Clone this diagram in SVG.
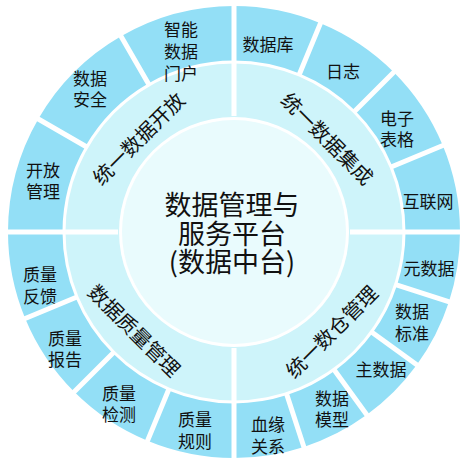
<svg xmlns="http://www.w3.org/2000/svg" width="470" height="470" viewBox="0 0 470 470">
<style>
.o{fill:#93dff6}
.m{fill:#cef4fa}
.c{fill:#e9fbfd}
text{font-family:"Microsoft YaHei","Noto Sans CJK SC","Noto Sans",sans-serif;fill:#111;text-anchor:middle;dominant-baseline:central}
.t{font-size:17px}
.mt{font-size:20px}
.ct{font-size:27px}
.sep{stroke:#fff;stroke-width:5;fill:none}
</style>
<rect width="470" height="470" fill="#fff"/>
<g id="core">
<circle class="c" cx="234" cy="232" r="112"/>
<text class="ct" x="232" y="203">数据管理与</text>
<text class="ct" x="232" y="232">服务平台</text>
<text class="ct" x="232" y="260">(数据中台)</text>
</g>
<g id="mid-open">
<path class="m" d="M65.5,232 A168.5,168.5 0 0 1 234,63.5 L234,117 A115,115 0 0 0 119,232 Z"/>
<text class="mt" transform="translate(138,138) rotate(-45)">统一数据开放</text>
</g>
<g id="mid-integrate">
<path class="m" d="M234,63.5 A168.5,168.5 0 0 1 402.5,232 L349,232 A115,115 0 0 0 234,117 Z"/>
<text class="mt" transform="translate(328,138) rotate(45)">统一数据集成</text>
</g>
<g id="mid-warehouse">
<path class="m" d="M402.5,232 A168.5,168.5 0 0 1 234,400.5 L234,347 A115,115 0 0 0 349,232 Z"/>
<text class="mt" transform="translate(331,331) rotate(-45)">统一数仓管理</text>
</g>
<g id="mid-quality">
<path class="m" d="M234,400.5 A168.5,168.5 0 0 1 65.5,232 L119,232 A115,115 0 0 0 234,347 Z"/>
<text class="mt" transform="translate(135,330) rotate(45)">数据质量管理</text>
</g>
<g id="seg-open-mgmt">
<path class="o" d="M8,232 A226,226 0 0 1 38.28,119 L85.48,146.25 A171.5,171.5 0 0 0 62.5,232 Z"/>
<text class="t" x="43" y="169">开放</text><text class="t" x="43" y="190">管理</text>
</g>
<g id="seg-security">
<path class="o" d="M38.28,119 A226,226 0 0 1 121,36.28 L148.25,83.48 A171.5,171.5 0 0 0 85.48,146.25 Z"/>
<text class="t" x="90" y="77">数据</text><text class="t" x="90" y="98">安全</text>
</g>
<g id="seg-portal">
<path class="o" d="M121,36.28 A226,226 0 0 1 234,6 L234,60.5 A171.5,171.5 0 0 0 148.25,83.48 Z"/>
<text class="t" x="181" y="28">智能</text><text class="t" x="181" y="50">数据</text><text class="t" x="181" y="72">门户</text>
</g>
<g id="seg-db">
<path class="o" d="M234,6 A226,226 0 0 1 320.49,23.2 L299.63,73.55 A171.5,171.5 0 0 0 234,60.5 Z"/>
<text class="t" x="268" y="43">数据库</text>
</g>
<g id="seg-log">
<path class="o" d="M320.49,23.2 A226,226 0 0 1 393.81,72.19 L355.27,110.73 A171.5,171.5 0 0 0 299.63,73.55 Z"/>
<text class="t" x="343" y="70">日志</text>
</g>
<g id="seg-sheet">
<path class="o" d="M393.81,72.19 A226,226 0 0 1 442.8,145.51 L392.45,166.37 A171.5,171.5 0 0 0 355.27,110.73 Z"/>
<text class="t" x="397" y="117">电子</text><text class="t" x="397" y="138">表格</text>
</g>
<g id="seg-web">
<path class="o" d="M442.8,145.51 A226,226 0 0 1 460,232 L405.5,232 A171.5,171.5 0 0 0 392.45,166.37 Z"/>
<text class="t" x="428" y="200">互联网</text>
</g>
<g id="seg-meta">
<path class="o" d="M460,232 A226,226 0 0 1 448.94,301.84 L397.11,285 A171.5,171.5 0 0 0 405.5,232 Z"/>
<text class="t" x="429" y="267">元数据</text>
</g>
<g id="seg-standard">
<path class="o" d="M448.94,301.84 A226,226 0 0 1 416.84,364.84 L372.75,332.81 A171.5,171.5 0 0 0 397.11,285 Z"/>
<text class="t" x="412" y="310">数据</text><text class="t" x="412" y="332">标准</text>
</g>
<g id="seg-master">
<path class="o" d="M416.84,364.84 A226,226 0 0 1 366.84,414.84 L334.81,370.75 A171.5,171.5 0 0 0 372.75,332.81 Z"/>
<text class="t" x="381" y="368">主数据</text>
</g>
<g id="seg-model">
<path class="o" d="M366.84,414.84 A226,226 0 0 1 303.84,446.94 L287,395.11 A171.5,171.5 0 0 0 334.81,370.75 Z"/>
<text class="t" x="332" y="397">数据</text><text class="t" x="332" y="418">模型</text>
</g>
<g id="seg-lineage">
<path class="o" d="M303.84,446.94 A226,226 0 0 1 234,458 L234,403.5 A171.5,171.5 0 0 0 287,395.11 Z"/>
<text class="t" x="268" y="423">血缘</text><text class="t" x="268" y="445">关系</text>
</g>
<g id="seg-rule">
<path class="o" d="M234,458 A226,226 0 0 1 147.51,440.8 L168.37,390.45 A171.5,171.5 0 0 0 234,403.5 Z"/>
<text class="t" x="195" y="418">质量</text><text class="t" x="195" y="440">规则</text>
</g>
<g id="seg-check">
<path class="o" d="M147.51,440.8 A226,226 0 0 1 74.19,391.81 L112.73,353.27 A171.5,171.5 0 0 0 168.37,390.45 Z"/>
<text class="t" x="119" y="392">质量</text><text class="t" x="119" y="413">检测</text>
</g>
<g id="seg-report">
<path class="o" d="M74.19,391.81 A226,226 0 0 1 25.2,318.49 L75.55,297.63 A171.5,171.5 0 0 0 112.73,353.27 Z"/>
<text class="t" x="65" y="337">质量</text><text class="t" x="65" y="358">报告</text>
</g>
<g id="seg-feedback">
<path class="o" d="M25.2,318.49 A226,226 0 0 1 8,232 L62.5,232 A171.5,171.5 0 0 0 75.55,297.63 Z"/>
<text class="t" x="40" y="273">质量</text><text class="t" x="40" y="295">反馈</text>
</g>
<g id="connectors">
<path class="sep" d="M234,116 V2 M234,348 V462 M118,232 H4 M350,232 H464"/>
<path class="sep" d="M86.77,147 L36.55,118 M149,84.77 L120,34.55 M299.06,74.94 L321.25,21.36 M354.21,111.79 L395.23,70.77 M391.06,166.94 L444.64,144.75 M395.68,284.53 L450.84,302.46 M371.53,331.92 L418.45,366.01 M333.92,369.53 L368.01,416.45 M286.53,393.68 L304.46,448.84 M168.94,389.06 L146.75,442.64 M113.79,352.21 L72.77,393.23 M76.94,297.06 L23.36,319.25"/>
</g>
</svg>
